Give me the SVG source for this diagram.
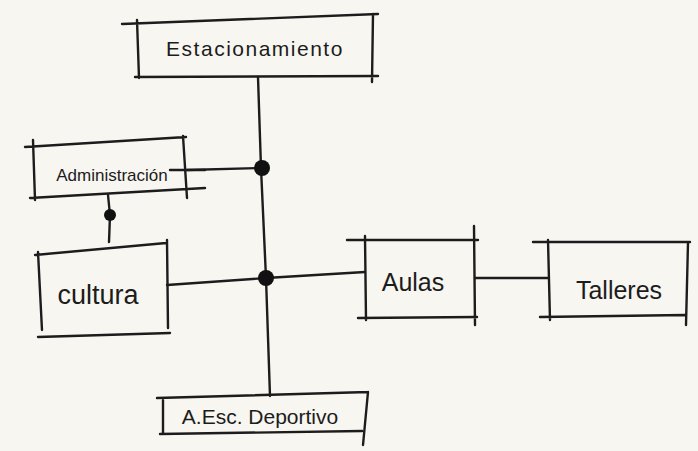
<svg xmlns="http://www.w3.org/2000/svg" width="698" height="451" viewBox="0 0 698 451">
<style>
.s{fill:none;stroke:#1c1c1c;stroke-width:2.4;stroke-linecap:round;stroke-linejoin:round}
.t{font-family:"Liberation Sans","DejaVu Sans",sans-serif;fill:#1c1c1c;text-anchor:middle}
.d{fill:#111}
</style>
<rect width="698" height="451" fill="#f8f6f1"/>
<g id="connectors">
<path class="s" d="M258 77 L261 168 L266 278 L270 396"/>
<path class="s" d="M187 170 L262 168"/>
<path class="s" d="M167 285 L266 278 L365 272"/>
<path class="s" d="M475 278 L548 278"/>
<path class="s" d="M108 195 L110 215 L109 242"/>
<circle class="d" cx="262" cy="168" r="8"/>
<circle class="d" cx="266" cy="278" r="8"/>
<circle class="d" cx="110" cy="215" r="6"/>
</g>
<g id="estacionamiento">
<path class="s" d="M122 24 L378 14 M137 20 L139 78 M135 77 L378 76 M373 14 L372 82"/>
<text class="t" x="255" y="56" font-size="21" letter-spacing="1.5">Estacionamiento</text>
</g>
<g id="administracion">
<path class="s" d="M25 147 L186 137 M33 140 L35 200 M30 198 L205 188 M183 136 L187 198 M170 170 L205 170"/>
<text class="t" x="112" y="181" font-size="17">Administración</text>
</g>
<g id="cultura">
<path class="s" d="M35 255 L166 243 M38 252 L42 330 M38 337 L170 333 M167 240 L168 328"/>
<text class="t" x="98" y="304" font-size="27">cultura</text>
</g>
<g id="aulas">
<path class="s" d="M347 240 L478 240 M365 236 L366 320 M358 318 L477 317 M474 226 L475 325"/>
<text class="t" x="413" y="291" font-size="25">Aulas</text>
</g>
<g id="talleres">
<path class="s" d="M533 242 L690 242 M548 240 L550 320 M540 317 L685 315 M688 243 L686 325"/>
<text class="t" x="619" y="299" font-size="25">Talleres</text>
</g>
<g id="deportivo">
<path class="s" d="M157 398 L368 392 M163 400 L163 433 M160 434 L362 431 M368 392 L363 445"/>
<text class="t" x="260" y="424" font-size="21">A.Esc. Deportivo</text>
</g>
</svg>
